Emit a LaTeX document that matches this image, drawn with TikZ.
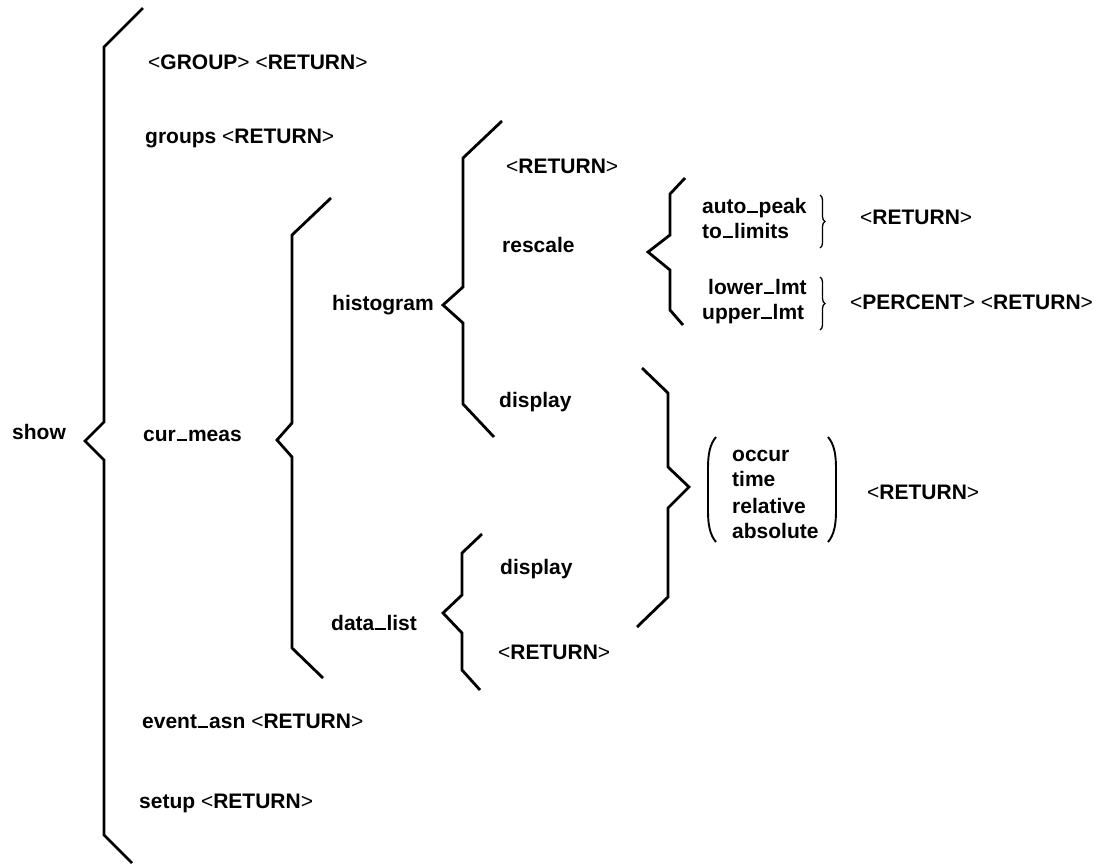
\documentclass[tikz,border=0pt]{standalone}
\usepackage{fontspec}
\setmainfont{Liberation Sans}
\usetikzlibrary{decorations.pathreplacing}
\newcommand\us{\kern0.04em\rule{0.5em}{0.09em}\kern0.04em}
\newcommand\lab{{\mdseries<}}
\newcommand\rab{{\mdseries>}}
\begin{document}
\begin{tikzpicture}[x=1pt,y=-1pt,
  brc/.style={line width=2.8pt, line join=miter},
  lbl/.style={anchor=base west, inner sep=0pt, font=\fontsize{21}{26}\selectfont\bfseries},
  sbr/.style={line width=1.3pt, decorate, decoration={brace, amplitude=5pt}},
  prn/.style={line width=1.9pt}]
\useasboundingbox (0,0) rectangle (1114,863);
% braces
\draw[brc] (143,8) -- (104,47) -- (104,422) -- (85,441) -- (104,460) -- (104,835) -- (132,863);
\draw[brc] (331,198) -- (292,235) -- (292,423) -- (277,440) -- (292,457) -- (292,648) -- (323,678);
\draw[brc] (502,121) -- (463,158) -- (463,287) -- (443,305) -- (463,323) -- (463,404) -- (494,437);
\draw[brc] (685,178) -- (670,194) -- (670,235) -- (648,252) -- (670,270) -- (670,310) -- (683,325);
\draw[brc] (642,368) -- (668,393) -- (668,467) -- (689,487) -- (668,508) -- (668,597) -- (637,627);
\draw[brc] (482,534) -- (462,553) -- (462,595) -- (443,613) -- (462,633) -- (462,670) -- (480,690);
% small braces and parentheses
\draw[sbr] (820,195) -- (820,248);
\draw[sbr] (820,277) -- (820,330);
\draw[prn] (716,437) .. controls (710,444) and (708,454) .. (708,468) -- (708,511) .. controls (708,525) and (710,535) .. (716,542);
\draw[prn] (828,437) .. controls (834,444) and (836,454) .. (836,468) -- (836,511) .. controls (836,525) and (834,535) .. (828,542);
% labels
\node[lbl] (grp) at (148,69) {\lab GROUP\rab{} \lab RETURN\rab};
\node[lbl] (groups) at (145,143) {groups \lab RETURN\rab};
\node[lbl] (show) at (12,439) {show};
\node[lbl] (curmeas) at (143,441) {cur\us meas};
\node[lbl] (eventasn) at (142,728) {event\us asn \lab RETURN\rab};
\node[lbl] (setup) at (139,808) {setup \lab RETURN\rab};
\node[lbl] (histogram) at (332,310) {histogram};
\node[lbl] (datalist) at (331,630) {data\us list};
\node[lbl] (retA) at (506,173) {\lab RETURN\rab};
\node[lbl] (rescale) at (502,252) {rescale};
\node[lbl] (dispA) at (499,407) {display};
\node[lbl] (dispB) at (500,574) {display};
\node[lbl] (retB) at (498,659) {\lab RETURN\rab};
\node[lbl] (autopeak) at (702,213) {auto\us peak};
\node[lbl] (tolimits) at (702,238) {to\us limits};
\node[lbl] (lowerlmt) at (708,294) {lower\us lmt};
\node[lbl] (upperlmt) at (702,319) {upper\us lmt};
\node[lbl] (retC) at (860,224) {\lab RETURN\rab};
\node[lbl] (pct) at (850,309) {\lab PERCENT\rab{} \lab RETURN\rab};
\node[lbl] (occur) at (732,461) {occur};
\node[lbl] (time) at (732,486) {time};
\node[lbl] (relative) at (732,513) {relative};
\node[lbl] (absolute) at (732,538) {absolute};
\node[lbl] (retD) at (867,499) {\lab RETURN\rab};
\end{tikzpicture}
\end{document}
